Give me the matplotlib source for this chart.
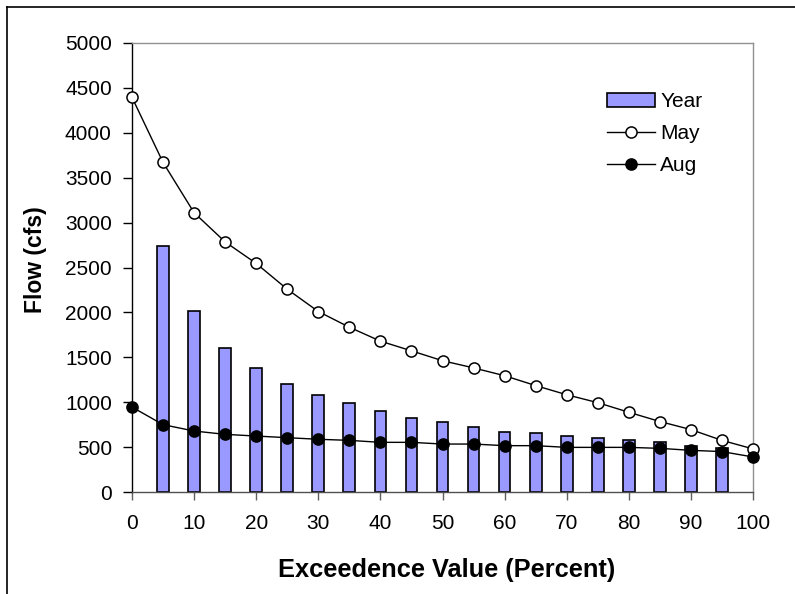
import matplotlib
matplotlib.use("Agg")
import matplotlib.pyplot as plt
from matplotlib.lines import Line2D

plt.rcParams['font.family'] = ['Liberation Sans', 'DejaVu Sans']

x_line = [0, 5, 10, 15, 20, 25, 30, 35, 40, 45, 50, 55, 60, 65, 70, 75, 80, 85, 90, 95, 100]
may = [4395, 3670, 3110, 2785, 2545, 2258, 2010, 1835, 1680, 1572, 1462, 1382, 1295, 1185, 1083, 995, 888, 785, 695, 575, 480]
aug = [946, 750, 679, 642, 623, 605, 587, 575, 553, 553, 534, 534, 516, 516, 497, 497, 497, 486, 464, 450, 390]
x_bar = [5, 10, 15, 20, 25, 30, 35, 40, 45, 50, 55, 60, 65, 70, 75, 80, 85, 90, 95]
year = [2735, 2015, 1607, 1377, 1202, 1080, 990, 901, 828, 779, 723, 672, 657, 620, 605, 575, 553, 516, 486]

x_ticks = list(range(0, 101, 10))
y_ticks = list(range(0, 5001, 500))

fig = plt.figure(figsize=(7.95, 5.94), dpi=100)
ax = fig.add_axes([132/795, 1 - 492/594, (753-132)/795, (492-43)/594])

ax.bar(x_bar, year, width=1.9, color='#9999FF', edgecolor='black', linewidth=1.2, label='Year', zorder=2)
ax.plot(x_line, may, color='black', lw=1.0, marker='o', ms=8, mfc='white', mec='black', mew=1.1, label='May', zorder=3, clip_on=False)
ax.plot(x_line, aug, color='black', lw=1.0, marker='o', ms=8, mfc='black', mec='black', mew=1.1, label='Aug', zorder=3, clip_on=False)

ax.set_xlim(0, 100)
ax.set_ylim(0, 5000)
ax.set_xticks(x_ticks)
ax.set_yticks(y_ticks)
ax.tick_params(axis='y', direction='out', length=6.5, width=1.0, pad=8, labelsize=15, colors='black')
ax.tick_params(axis='x', direction='out', length=5.5, width=1.0, pad=10, labelsize=15, color='#606060', labelcolor='black')

ax.spines['left'].set_color('black')
ax.spines['bottom'].set_color('#505050')
ax.spines['top'].set_color('#909090')
ax.spines['right'].set_color('#909090')
for s in ax.spines.values():
    s.set_linewidth(1.0)

ax.set_xlabel('Exceedence Value (Percent)', fontsize=18.3, fontweight='bold')
ax.set_ylabel('Flow (cfs)', fontsize=16.5, fontweight='bold')
ax.xaxis.set_label_coords(0.506, -0.148)
ax.yaxis.set_label_coords(-0.137, 0.517)

handles, labels = ax.get_legend_handles_labels()
order = [labels.index(n) for n in ['Year', 'May', 'Aug']]
leg = ax.legend([handles[i] for i in order], [labels[i] for i in order],
                loc='upper left', bbox_to_anchor=(0.735, 0.932), frameon=False, fontsize=15,
                handlelength=2.3, handletextpad=0.25, labelspacing=0.62)

# figure border (left and top visible)
fig.add_artist(Line2D([7/795, 7/795], [0, 1 - 7/594], transform=fig.transFigure, color='black', lw=1.2))
fig.add_artist(Line2D([7/795, 1], [1 - 7/594, 1 - 7/594], transform=fig.transFigure, color='black', lw=1.2))

fig.savefig('out.png', dpi=100)
